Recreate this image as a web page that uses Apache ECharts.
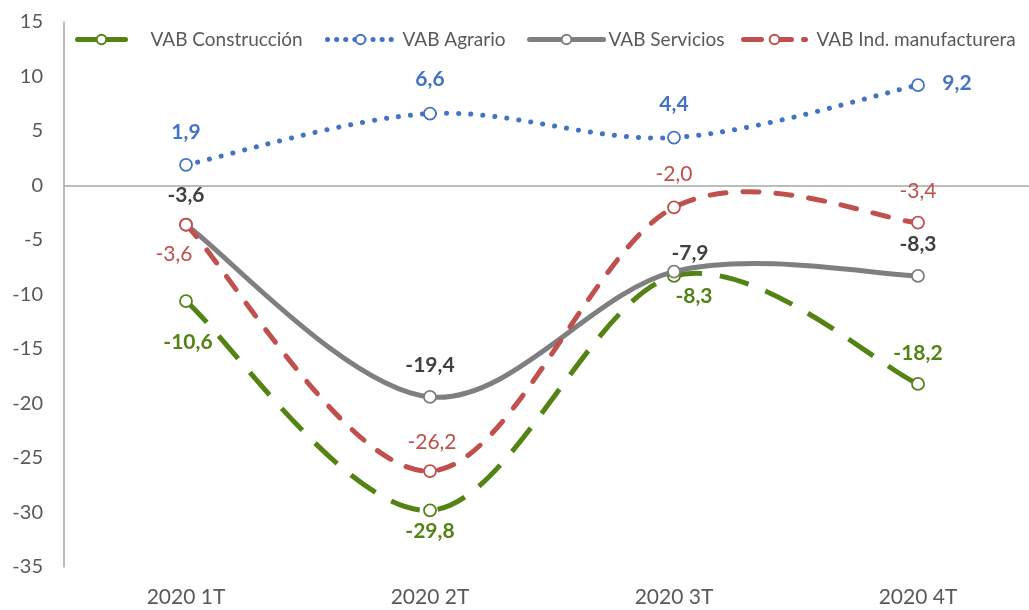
<!DOCTYPE html>
<html><head><meta charset="utf-8">
<script src="https://cdn.jsdelivr.net/npm/echarts@6/dist/echarts.min.js"></script>
<style>html,body{margin:0;padding:0;background:#fff;overflow:hidden}#c{width:1040px;height:610px}</style>
</head><body><div id="c"></div>
<script>
const categories = ['2020 1T','2020 2T','2020 3T','2020 4T'];
const construccion = [-10.6, -29.8, -8.3, -18.2];
const agrario = [1.9, 6.6, 4.4, 9.2];
const servicios = [-3.6, -19.4, -7.9, -8.3];
const manufacturera = [-3.6, -26.2, -2.0, -3.4];
const yTicks = [15,10,5,0,-5,-10,-15,-20,-25,-30,-35];

const FONT = 'Lato, "Open Sans", sans-serif';
const fmt = v => v.toFixed(1).replace('.', ',');

const COLORS = {green: '#538312', blue: '#4472c4', grey: '#7f7f7f', red: '#c0504d'};

function pts(values, offsets, color, bold) {
  return values.map((v, i) => ({
    value: v,
    label: {
      show: true, position: 'inside', offset: offsets[i],
      color: color, fontFamily: FONT, fontSize: 21,
      fontWeight: bold ? 'bold' : 'normal', textBorderWidth: 0,
      formatter: p => fmt(p.value)
    }
  }));
}

// Smooth curve (Catmull-Rom style, like spreadsheet smoothed lines) through the series points,
// positioned with the chart's own axes via api.coord.
function curveSeries(name, values, style, z) {
  return {
    name: name, type: 'custom', coordinateSystem: 'cartesian2d', z: z, silent: true,
    data: values.map((v, i) => [i, v]),
    encode: {x: 0, y: 1},
    renderItem: function (params, api) {
      if (params.dataIndex !== 0) return null;
      const p = values.map((v, i) => api.coord([i, v]));
      let d = 'M' + p[0][0] + ' ' + p[0][1];
      for (let i = 0; i < p.length - 1; i++) {
        const a = p[i - 1] || p[i], b = p[i], c = p[i + 1], e = p[i + 2] || p[i + 1];
        const c1 = [b[0] + (c[0] - a[0]) / 6, b[1] + (c[1] - a[1]) / 6];
        const c2 = [c[0] - (e[0] - b[0]) / 6, c[1] - (e[1] - b[1]) / 6];
        d += ' C' + c1[0] + ' ' + c1[1] + ' ' + c2[0] + ' ' + c2[1] + ' ' + c[0] + ' ' + c[1];
      }
      return {
        type: 'path', shape: {pathData: d},
        style: Object.assign({fill: null, lineJoin: 'round'}, style)
      };
    }
  };
}

const chart = echarts.init(document.getElementById('c'), null, {renderer: 'canvas'});
const sym = {symbol: 'circle', symbolSize: 12, smooth: false, lineStyle: {opacity: 0}};
const legendBase = {
  top: 25, itemHeight: 12,
  textStyle: {fontFamily: FONT, fontSize: 19, color: '#595959'}
};
const leg = (item, left, w, pad) => Object.assign({}, legendBase, {
  left: left, itemWidth: w, data: [item],
  textStyle: Object.assign({}, legendBase.textStyle, {padding: [0, 0, 0, pad]})
});

chart.setOption({
  animation: false,
  backgroundColor: '#fff',
  grid: {left: 64, right: 0, top: 22, bottom: 43},
  legend: [
    leg({name: 'VAB Construcción', lineStyle: {color: COLORS.green, width: 5, type: 'solid', opacity: 1, cap: 'round'}}, 70, 48, 20),
    leg({name: 'VAB Agrario', lineStyle: {color: COLORS.blue, width: 5, type: [0.1, 9], opacity: 1, cap: 'round'}}, 320, 66, 4),
    leg({name: 'VAB Servicios', lineStyle: {color: COLORS.grey, width: 5, type: 'solid', opacity: 1, cap: 'round'}}, 522, 74, 0),
    leg({name: 'VAB Ind. manufacturera', lineStyle: {color: COLORS.red, width: 5, type: [18, 12], opacity: 1, cap: 'round'}}, 736, 62, 6)
  ],
  xAxis: {
    type: 'category', data: categories, boundaryGap: true,
    axisLine: {show: false}, axisTick: {show: false},
    axisLabel: {fontFamily: FONT, fontSize: 21, color: '#595959', margin: 20}
  },
  yAxis: {
    type: 'value', min: -35, max: 15, interval: 5,
    axisLine: {show: true, lineStyle: {color: '#a6a6a6', width: 1.5}},
    axisTick: {show: false},
    splitLine: {show: false},
    axisLabel: {fontFamily: FONT, fontSize: 20, color: '#595959', margin: 21,
      formatter: v => yTicks.includes(v) ? String(v) : ''}
  },
  series: [
    curveSeries('c_construccion', construccion, {stroke: COLORS.green, lineWidth: 5, lineDash: [30, 18], lineCap: 'butt'}, 2),
    curveSeries('c_agrario', agrario, {stroke: COLORS.blue, lineWidth: 5, lineDash: [0.1, 12], lineCap: 'round'}, 3),
    curveSeries('c_servicios', servicios, {stroke: COLORS.grey, lineWidth: 5}, 4),
    curveSeries('c_manufacturera', manufacturera, {stroke: COLORS.red, lineWidth: 5, lineDash: [16, 17], lineCap: 'round'}, 5),
    Object.assign({
      name: 'VAB Construcción', type: 'line', z: 6,
      itemStyle: {color: '#fff', borderColor: COLORS.green, borderWidth: 1.8},
      data: pts(construccion, [[2, 41], [0, 21], [20, 20], [0, -31]], COLORS.green, true)
    }, sym),
    Object.assign({
      name: 'VAB Agrario', type: 'line', z: 6,
      itemStyle: {color: '#fff', borderColor: COLORS.blue, borderWidth: 1.8},
      data: pts(agrario, [[0, -33], [0, -34], [0, -33], [39, -2]], COLORS.blue, true)
    }, sym),
    Object.assign({
      name: 'VAB Servicios', type: 'line', z: 6,
      itemStyle: {color: '#fff', borderColor: COLORS.grey, borderWidth: 1.8},
      data: pts(servicios, [[0, -30], [0, -32], [16, -18], [0, -32]], '#404040', true)
    }, sym),
    Object.assign({
      name: 'VAB Ind. manufacturera', type: 'line', z: 6,
      itemStyle: {color: '#fff', borderColor: COLORS.red, borderWidth: 1.8},
      data: pts(manufacturera, [[-12, 29], [2, -29], [0, -33], [0, -31]], COLORS.red, false)
    }, sym),
    {
      name: 'zero', type: 'line', data: [], silent: true, z: 1,
      markLine: {symbol: 'none', silent: true, label: {show: false},
        lineStyle: {color: '#a6a6a6', width: 1.5, type: 'solid'},
        data: [{yAxis: 0}]}
    }
  ]
});
</script></body></html>
